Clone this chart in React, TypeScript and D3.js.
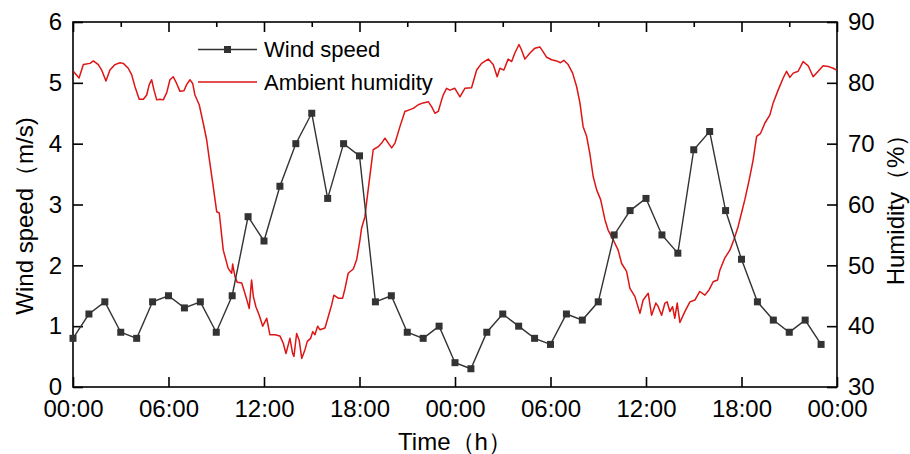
import React, { useRef, useEffect } from "react";
import * as d3 from "d3";

// hourly wind speed readings (m/s)
const windHours = [
  0, 1, 2, 3, 4, 5, 6, 7, 8, 9, 10, 11, 12, 13, 14, 15, 16, 17, 18, 19, 20, 21, 22, 23,
  24, 25, 26, 27, 28, 29, 30, 31, 32, 33, 34, 35, 36, 37, 38, 39, 40, 41, 42, 43, 44, 45, 46, 47,
];
const windSpeed = [
  0.8, 1.2, 1.4, 0.9, 0.8, 1.4, 1.5, 1.3, 1.4, 0.9, 1.5, 2.8, 2.4, 3.3, 4.0, 4.5, 3.1, 4.0, 3.8, 1.4, 1.5, 0.9, 0.8, 1.0,
  0.4, 0.3, 0.9, 1.2, 1.0, 0.8, 0.7, 1.2, 1.1, 1.4, 2.5, 2.9, 3.1, 2.5, 2.2, 3.9, 4.2, 2.9, 2.1, 1.4, 1.1, 0.9, 1.1, 0.7,
];

// ambient humidity trace (hours since start, %)
const humidityHours = [
  0.02, 0.38, 0.65, 1.07, 1.28, 1.59, 1.8, 2.07, 2.32, 2.64, 2.95, 3.16, 3.47, 3.69, 3.89, 4.16, 4.42, 4.63, 4.79, 4.94,
  5.09, 5.26, 5.46, 5.67, 5.89, 6.09, 6.3, 6.51, 6.72, 6.97, 7.14, 7.35, 7.52, 7.66, 7.93, 8.18, 8.4, 8.54, 8.78, 9.03,
  9.19, 9.44, 9.75, 9.97, 10.03, 10.18, 10.32, 10.6, 10.8, 11.01, 11.07, 11.22, 11.33, 11.49, 11.7, 11.92, 12.17, 12.37,
  12.69, 13.0, 13.21, 13.38, 13.63, 13.8, 13.88, 14.05, 14.21, 14.37, 14.57, 14.72, 14.93, 15.06, 15.2, 15.37, 15.52,
  15.83, 16.04, 16.25, 16.39, 16.66, 16.94, 17.09, 17.29, 17.61, 17.82, 18.03, 18.13, 18.34, 18.49, 18.7, 18.86, 19.18,
  19.39, 19.6, 19.81, 20.02, 20.23, 20.54, 20.85, 21.17, 21.38, 21.69, 22.0, 22.32, 22.53, 22.74, 22.95, 23.16, 23.26,
  23.47, 23.68, 23.99, 24.31, 24.62, 25.04, 25.36, 25.67, 26.09, 26.4, 26.65, 26.82, 27.07, 27.34, 27.56, 27.76, 28.02,
  28.18, 28.39, 28.71, 29.02, 29.33, 29.54, 29.76, 30.07, 30.38, 30.63, 30.84, 31.11, 31.39, 31.64, 31.85, 32.05, 32.27,
  32.47, 32.68, 32.9, 33.15, 33.42, 33.62, 33.94, 34.25, 34.47, 34.78, 34.99, 35.3, 35.62, 35.82, 36.14, 36.35, 36.62,
  36.77, 36.98, 37.19, 37.33, 37.5, 37.67, 37.81, 37.96, 38.13, 38.44, 38.76, 39.07, 39.38, 39.7, 39.97, 40.22, 40.5,
  40.64, 40.95, 41.27, 41.52, 41.79, 42.0, 42.21, 42.48, 42.73, 42.95, 43.2, 43.47, 43.78, 43.99, 44.3, 44.62, 44.83,
  45.04, 45.25, 45.56, 45.87, 46.19, 46.5, 46.82, 47.13, 47.44, 47.76, 47.97,
];
const humidity = [
  81.9, 80.8, 83.0, 83.2, 83.6, 83.0, 82.1, 80.3, 82.1, 83.0, 83.3, 83.2, 82.4, 81.3, 79.4, 77.3, 77.3, 78.0, 79.7, 80.5,
  78.8, 77.2, 77.3, 77.2, 78.4, 80.5, 81.0, 79.9, 78.6, 78.7, 79.7, 80.5, 79.9, 78.0, 76.4, 73.4, 70.6, 67.9, 63.5, 58.8,
  58.6, 52.5, 49.5, 48.7, 50.2, 48.1, 47.2, 47.1, 45.4, 43.5, 42.9, 47.6, 44.9, 43.2, 41.8, 40.0, 41.3, 38.6,
  38.6, 38.4, 37.2, 35.5, 38.0, 35.5, 35.0, 38.8, 37.7, 34.7, 36.1, 37.5, 38.0, 39.1, 38.6, 40.0, 39.4,
  39.7, 41.6, 43.5, 45.1, 44.6, 44.6, 46.2, 48.7, 49.4, 50.9, 54.2, 56.1, 58.0, 61.3, 65.7, 69.0, 69.5,
  70.1, 70.9, 70.1, 69.3, 70.1, 72.8, 75.3, 75.6, 75.8, 76.4, 76.7, 76.9, 76.1, 75.0, 75.3, 77.2, 78.0,
  79.1, 78.8, 79.1, 77.7, 79.1, 79.2, 82.1, 83.2, 83.9, 83.0, 81.0, 82.4, 82.1, 83.9, 83.5, 84.9, 86.3,
  85.4, 83.9, 84.9, 85.7, 85.9, 85.1, 84.2, 83.8, 83.6, 83.3, 83.7, 83.0, 81.6, 79.4, 76.7, 72.8, 71.2,
  68.4, 64.6, 62.4, 60.8, 57.5, 55.8, 54.2, 52.5, 50.3, 49.0, 46.2, 44.9, 42.1, 44.3, 45.4, 41.8, 43.8,
  43.2, 41.8, 43.8, 44.0, 42.4, 43.2, 41.3, 43.8, 40.6, 42.4, 44.0, 44.3, 45.7, 45.1, 46.0, 47.3, 47.6,
  49.2, 51.2, 52.5, 54.2, 56.4, 58.6, 60.8, 64.0, 67.3, 71.2, 71.7, 73.4, 74.7, 76.7, 78.8, 80.8, 81.9,
  80.9, 81.6, 81.9, 83.5, 82.8, 81.0, 81.9, 82.8, 82.7, 82.4, 82.1,
];

const timeTicks = [0, 6, 12, 18, 24, 30, 36, 42, 48];
const timeTickLabels = ["00:00", "06:00", "12:00", "18:00", "00:00", "06:00", "12:00", "18:00", "00:00"];
const timeMinorTicks = [3, 9, 15, 21, 27, 33, 39, 45];
const windTicks = [0, 1, 2, 3, 4, 5, 6];
const humidityTicks = [30, 40, 50, 60, 70, 80, 90];

const FONT = "'Liberation Sans', Arial, Helvetica, sans-serif";

export default function App() {
  const ref = useRef<SVGSVGElement | null>(null);

  useEffect(() => {
    document.body.style.margin = "0";
    const width = 910;
    const height = 454;
    const margin = { top: 22, right: 73, bottom: 67, left: 73 };
    const w = width - margin.left - margin.right;
    const h = height - margin.top - margin.bottom;

    d3.select(ref.current).selectAll("*").remove();
    const root = d3.select(ref.current).attr("width", width).attr("height", height);
    const svg = root.append("g").attr("transform", `translate(${margin.left},${margin.top})`);

    const x = d3.scaleLinear().domain([0, 48]).range([0, w]);
    const yWind = d3.scaleLinear().domain([0, 6]).range([h, 0]);
    const yHum = d3.scaleLinear().domain([30, 90]).range([h, 0]);

    const axisColor = "#000";
    const styleAxis = (g: any) => {
      g.select(".domain").remove();
      g.selectAll("line").attr("stroke", axisColor).attr("stroke-width", 1.6);
      g.selectAll("text")
        .attr("fill", "#000")
        .style("font-family", FONT)
        .style("font-size", "24px");
    };

    // bottom axis
    svg
      .append("g")
      .attr("transform", `translate(0,${h})`)
      .call(
        d3
          .axisBottom(x)
          .tickValues(timeTicks)
          .tickFormat((d, i) => timeTickLabels[i])
          .tickSizeInner(-10)
          .tickSizeOuter(0)
          .tickPadding(13) as any,
      )
      .call(styleAxis);

    // top axis: major + minor ticks, no labels
    svg
      .append("g")
      .call(d3.axisTop(x).tickValues(timeTicks).tickFormat(() => "").tickSizeInner(-10).tickSizeOuter(0) as any)
      .call(styleAxis);
    svg
      .append("g")
      .call(d3.axisTop(x).tickValues(timeMinorTicks).tickFormat(() => "").tickSizeInner(-5).tickSizeOuter(0) as any)
      .call(styleAxis);

    // left axis
    svg
      .append("g")
      .call(
        d3
          .axisLeft(yWind)
          .tickValues(windTicks)
          .tickFormat(d3.format("d"))
          .tickSizeInner(-10)
          .tickSizeOuter(0)
          .tickPadding(11) as any,
      )
      .call(styleAxis);

    // right axis
    svg
      .append("g")
      .attr("transform", `translate(${w},0)`)
      .call(
        d3
          .axisRight(yHum)
          .tickValues(humidityTicks)
          .tickFormat(d3.format("d"))
          .tickSizeInner(-10)
          .tickSizeOuter(0)
          .tickPadding(11) as any,
      )
      .call(styleAxis);

    // frame
    svg
      .append("rect")
      .attr("x", 0)
      .attr("y", 0)
      .attr("width", w)
      .attr("height", h)
      .attr("fill", "none")
      .attr("stroke", axisColor)
      .attr("stroke-width", 1.6);

    // humidity line
    const humData = humidityHours.map((t, i) => ({ t, v: humidity[i] })).filter((d) => d.v !== undefined);
    const humLine = d3
      .line<{ t: number; v: number }>()
      .x((d) => x(d.t))
      .y((d) => yHum(d.v));
    svg
      .append("path")
      .datum(humData)
      .attr("fill", "none")
      .attr("stroke", "#dd1515")
      .attr("stroke-width", 1.5)
      .attr("stroke-linejoin", "round")
      .attr("d", humLine);

    // wind line + markers
    const windData = windHours.map((t, i) => ({ t, v: windSpeed[i] }));
    const windLine = d3
      .line<{ t: number; v: number }>()
      .x((d) => x(d.t))
      .y((d) => yWind(d.v));
    svg
      .append("path")
      .datum(windData)
      .attr("fill", "none")
      .attr("stroke", "#333")
      .attr("stroke-width", 1.4)
      .attr("d", windLine);
    const sq = 7;
    svg
      .append("g")
      .selectAll("rect")
      .data(windData)
      .enter()
      .append("rect")
      .attr("x", (d) => x(d.t) - sq / 2)
      .attr("y", (d) => yWind(d.v) - sq / 2)
      .attr("width", sq)
      .attr("height", sq)
      .attr("fill", "#333");

    // legend
    const legend = root.append("g").attr("transform", "translate(198,49.5)");
    legend.append("line").attr("x1", 0).attr("x2", 59).attr("y1", 0).attr("y2", 0).attr("stroke", "#333").attr("stroke-width", 1.4);
    legend.append("rect").attr("x", 29.5 - sq / 2).attr("y", -sq / 2).attr("width", sq).attr("height", sq).attr("fill", "#333");
    legend
      .append("text")
      .attr("x", 66)
      .attr("y", 0)
      .attr("dy", "0.35em")
      .style("font-family", FONT)
      .style("font-size", "22px")
      .text("Wind speed");
    legend.append("line").attr("x1", 0).attr("x2", 59).attr("y1", 32.5).attr("y2", 32.5).attr("stroke", "#dd1515").attr("stroke-width", 1.5);
    legend
      .append("text")
      .attr("x", 66)
      .attr("y", 32.5)
      .attr("dy", "0.35em")
      .style("font-family", FONT)
      .style("font-size", "22px")
      .text("Ambient humidity");

    // axis titles
    root
      .append("text")
      .attr("transform", "translate(33,216) rotate(-90)")
      .attr("text-anchor", "middle")
      .style("font-family", FONT)
      .style("font-size", "24px")
      .text("Wind speed（m/s)");
    root
      .append("text")
      .attr("x", margin.left + w / 2)
      .attr("y", 450)
      .attr("text-anchor", "middle")
      .style("font-family", FONT)
      .style("font-size", "24px")
      .text("Time（h）");
    root
      .append("text")
      .attr("transform", "translate(904,204) rotate(-90)")
      .attr("text-anchor", "middle")
      .style("font-family", FONT)
      .style("font-size", "24px")
      .text("Humidity（%）");
  }, []);

  return (
    <div style={{ width: 910, height: 454, background: "#fff" }}>
      <svg ref={ref} style={{ display: "block" }} />
    </div>
  );
}
